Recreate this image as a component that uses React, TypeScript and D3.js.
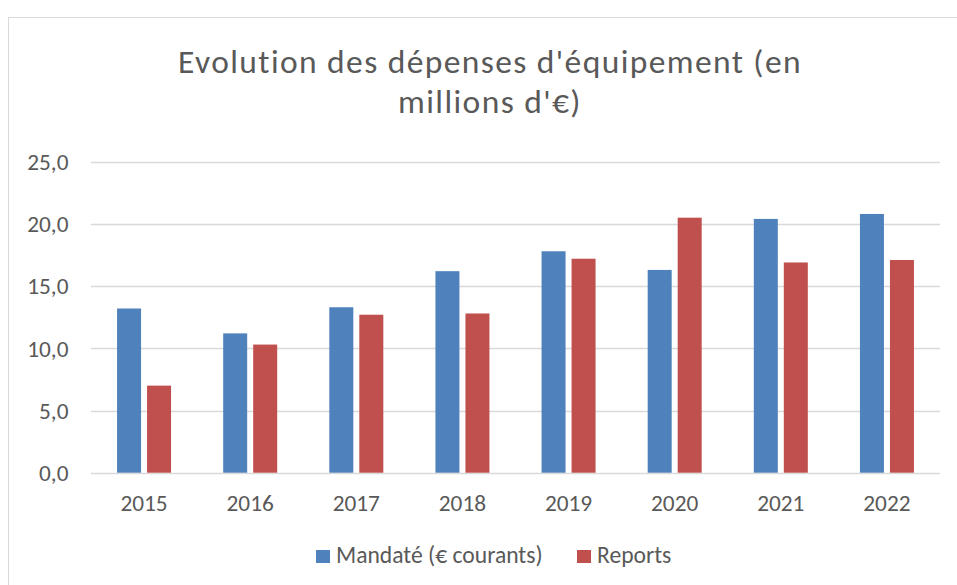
import React from "react";
import * as d3 from "d3";

const years = ["2015", "2016", "2017", "2018", "2019", "2020", "2021", "2022"];
const mandate = [13.2, 11.2, 13.3, 16.2, 17.8, 16.3, 20.4, 20.8];
const reports = [7.0, 10.3, 12.7, 12.8, 17.2, 20.5, 16.9, 17.1];
const seriesNames = ["Mandaté (€ courants)", "Reports"];
const yTicks = [0, 5, 10, 15, 20, 25];
const titleLines = ["Evolution des dépenses d'équipement (en", "millions d'€)"];

const colors = ["#4F81BD", "#C0504D"];
const textColor = "#595959";
const font = "Carlito, Calibri, Lato, sans-serif";

export default function App() {
  const width = 957,
    height = 585;
  const plot = { left: 91, right: 940, top: 161.7, bottom: 472.7 };

  const x = d3.scaleBand().domain(years).range([plot.left, plot.right]).padding(0);
  const bw = x.bandwidth();
  const x1 = d3
    .scaleBand()
    .domain(seriesNames)
    .range([bw / 2 - 27, bw / 2 + 27])
    .paddingInner(0.2)
    .paddingOuter(0);
  const y = d3.scaleLinear().domain([0, 25]).range([plot.bottom, plot.top]);
  const fmt = (v: number) => d3.format(".1f")(v).replace(".", ",");

  const data = [mandate, reports];

  return (
    <svg
      width={width}
      height={height}
      style={{ position: "absolute", left: 0, top: 0, background: "#fff" }}
      fontFamily={font}
    >
      {/* chart frame */}
      <rect x={8.5} y={17.5} width={1000} height={1000} fill="#fff" stroke="#D9D9D9" strokeWidth={1} />

      {/* title */}
      {titleLines.map((t, i) => (
        <text
          key={t}
          x={490}
          y={72.7 + i * 40.6}
          textAnchor="middle"
          fontSize={33.5}
          letterSpacing={1.4}
          fill={textColor}
        >
          {t}
        </text>
      ))}

      {/* gridlines + y labels */}
      {yTicks.map((t) => (
        <g key={t}>
          <line
            x1={plot.left}
            x2={plot.right}
            y1={Math.round(y(t)) + 0.5}
            y2={Math.round(y(t)) + 0.5}
            stroke="#D9D9D9"
            strokeWidth={1.3}
          />
          <text x={68.5} y={y(t)} dy="0.36em" textAnchor="end" fontSize={23.3} fill={textColor}>
            {fmt(t)}
          </text>
        </g>
      ))}

      {/* bars */}
      {years.map((yr, i) => (
        <g key={yr} transform={`translate(${x(yr)},0)`}>
          {seriesNames.map((s, k) => (
            <rect
              key={s}
              x={x1(s)}
              y={y(data[k][i])}
              width={x1.bandwidth()}
              height={y(0) - y(data[k][i])}
              fill={colors[k]}
            />
          ))}
        </g>
      ))}

      {/* x labels */}
      {years.map((yr) => (
        <text key={yr} x={(x(yr) as number) + bw / 2} y={510.7} textAnchor="middle" fontSize={23.3} fill={textColor}>
          {yr}
        </text>
      ))}

      {/* legend */}
      <rect x={316} y={550} width={14} height={13} fill={colors[0]} />
      <text x={336} y={563} fontSize={23.6} fill={textColor}>
        {seriesNames[0]}
      </text>
      <rect x={577} y={550} width={14} height={13} fill={colors[1]} />
      <text x={597} y={563} fontSize={23.6} fill={textColor}>
        {seriesNames[1]}
      </text>
    </svg>
  );
}
